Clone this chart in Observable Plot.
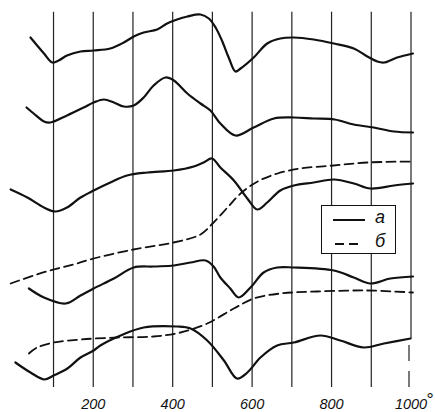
<!DOCTYPE html>
<html>
<head>
<meta charset="utf-8">
<script src="https://cdn.jsdelivr.net/npm/d3@7"></script>
<script src="https://cdn.jsdelivr.net/npm/@observablehq/plot@0.6"></script>
<style>
  html, body { margin: 0; padding: 0; background: #fff; }
  #wrap { position: relative; width: 435px; height: 412px; }
  #legend {
    position: absolute; left: 321px; top: 205px; width: 73px; height: 47px;
    background: #fff; border: 1.4px solid #111;
    font-family: "Liberation Sans", "DejaVu Sans", sans-serif; font-style: italic; font-size: 18px; color: #111;
  }
  #legend .row { position: absolute; left: 0; width: 100%; height: 20px; }
  #legend svg { position: absolute; left: 10px; top: 0; }
  #legend span { position: absolute; left: 53px; top: -3px; }
</style>
</head>
<body>
<div id="wrap">
  <div id="chart"></div>
  <div id="legend">
    <div class="row" style="top:4px">
      <svg width="36" height="20"><line x1="1" y1="10" x2="33" y2="10" stroke="#111" stroke-width="2"/></svg>
      <span>а</span>
    </div>
    <div class="row" style="top:28px">
      <svg width="36" height="20"><line x1="3" y1="10" x2="31" y2="10" stroke="#111" stroke-width="1.8" stroke-dasharray="9,5"/></svg>
      <span>б</span>
    </div>
  </div>
</div>
<script>
// Temperature (°C) and signal (arbitrary units, upward)
const gridTemps = [100, 200, 300, 400, 500, 600, 700, 800, 900];
const tickTemps = [200, 400, 600, 800, 1000];

const t1 = [42, 76, 97, 113, 134, 168, 201, 243, 277, 302, 327, 361, 386, 411, 437, 470, 491, 508, 524, 541, 558, 571, 604, 638, 671, 705, 755, 806, 856, 890, 915, 932, 965, 1005];
const v1 = [363, 347, 338, 340, 345, 349, 350, 352, 358, 364, 368, 371, 377, 381, 384, 386, 382, 373, 360, 343, 329, 332, 343, 357, 362, 363, 361, 357, 352, 344, 339, 338, 343, 347];

const t2 = [32, 50, 76, 92, 134, 176, 201, 227, 252, 277, 302, 327, 352, 382, 403, 437, 470, 495, 520, 558, 604, 655, 705, 755, 808, 856, 906, 957, 1005];
const v2 = [293, 287, 279, 278, 285, 293, 298, 301, 298, 294, 295, 303, 315, 323, 320, 307, 297, 290, 277, 265, 273, 282, 283, 282, 281, 276, 273, 269, 268];

const t3 = [-8, 34, 76, 105, 134, 168, 201, 243, 285, 336, 403, 453, 478, 499, 520, 554, 588, 613, 638, 671, 705, 755, 806, 856, 898, 957, 1005];
const v3 = [211, 203, 193, 189, 193, 203, 210, 218, 225, 228, 230, 234, 238, 242, 233, 220, 202, 191, 198, 210, 215, 218, 221, 217, 212, 215, 217];

const tD1 = [-8, 50, 100, 150, 201, 301, 402, 470, 503, 538, 571, 614, 664, 722, 805, 890, 1006];
const vD1 = [117, 125, 131, 136, 142, 151, 158, 166, 178, 193, 207, 219, 227, 232, 235, 238, 239];

const t4 = [38, 76, 130, 168, 201, 252, 302, 352, 403, 445, 483, 503, 520, 545, 566, 596, 629, 663, 705, 806, 856, 898, 948, 1005];
const v4 = [112, 103, 97, 105, 112, 122, 133, 134, 135, 138, 140, 134, 123, 112, 103, 113, 128, 133, 133, 130, 123, 117, 122, 124];

const tD2 = [38, 59, 101, 168, 260, 352, 420, 487, 554, 604, 671, 764, 890, 1005];
const vD2 = [47, 53, 58, 61, 63, 64, 68, 77, 92, 102, 107, 109, 110, 108];

const t5 = [4, 42, 77, 100, 135, 168, 201, 218, 269, 327, 411, 445, 487, 529, 562, 588, 621, 663, 705, 772, 822, 881, 932, 999];
const v5 = [38, 28, 21, 25, 32, 43, 50, 55, 65, 73, 74, 72, 60, 40, 22, 28, 43, 55, 58, 65, 60, 53, 57, 62];

const yDomain = [13, 388.3];

const solidSeries = [[t1, v1], [t2, v2], [t3, v3], [t4, v4], [t5, v5]];
const dashedSeries = [[tD1, vD1], [tD2, vD2]];
const toRows = (list) => list.flatMap(([ts, vs], k) => ts.map((t, i) => ({t, v: vs[i], k})));
const solidRows = toRows(solidSeries);
const dashedRows = toRows(dashedSeries);
const endLast = v5[v5.length - 1];

const chart = Plot.plot({
  width: 435,
  height: 412,
  marginLeft: 13.3,
  marginRight: 24.5,
  marginTop: 11.7,
  marginBottom: 25,
  style: {background: "transparent", fontFamily: "'Liberation Sans', 'DejaVu Sans', sans-serif"},
  x: {domain: [0, 1000]},
  y: {domain: yDomain, axis: null},
  marks: [
    Plot.ruleX(gridTemps, {stroke: "#222", strokeWidth: 1.2}),
    Plot.ruleX([1000], {y1: endLast, y2: yDomain[1], stroke: "#222", strokeWidth: 1.2}),
    Plot.ruleX([1000], {y1: yDomain[0], y2: endLast - 1, dx: -2, stroke: "#222", strokeWidth: 1.2, strokeDasharray: "16,10"}),
    Plot.line(solidRows, {x: "t", y: "v", z: "k", stroke: "#111", strokeWidth: 2.2, curve: "catmull-rom", strokeLinejoin: "round", strokeLinecap: "round"}),
    Plot.line(dashedRows, {x: "t", y: "v", z: "k", stroke: "#111", strokeWidth: 1.8, strokeDasharray: "9,5", curve: "catmull-rom"}),
    Plot.axisX(tickTemps, {tickSize: 0, tickPadding: 11, fontSize: 14.5, fontStyle: "italic", fill: "#111", tickFormat: d => String(d), label: null}),
    Plot.text([1000], {x: d => d, frameAnchor: "bottom", text: () => "°", dx: 19, dy: 18, fontSize: 18, fill: "#111"})
  ]
});
document.getElementById("chart").appendChild(chart);
</script>
</body>
</html>
